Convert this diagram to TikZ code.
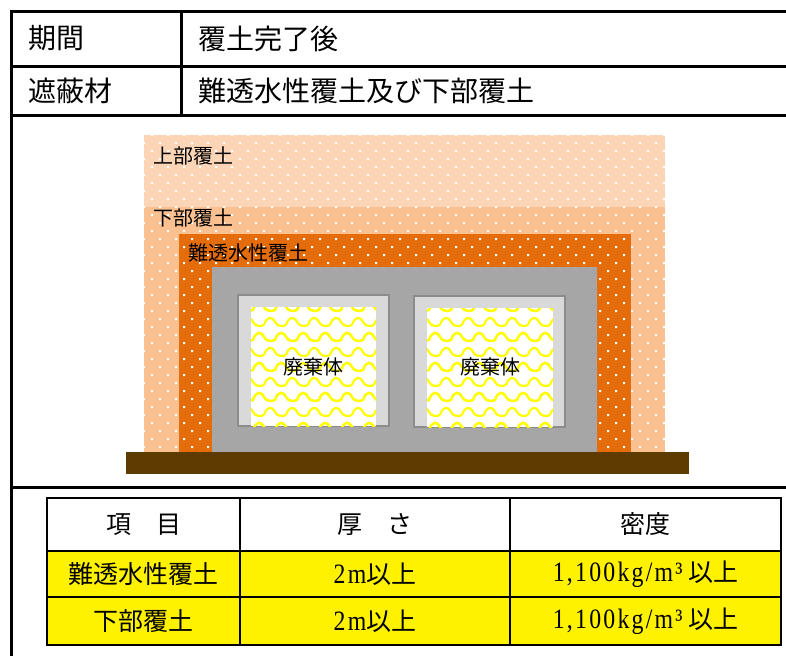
\documentclass[tikz,border=0pt]{standalone}
\usepackage{fontspec}
\setmainfont{Noto Sans CJK JP}
\newfontfamily\numfont[FakeStretch=0.85, LetterSpace=8]{Liberation Serif}
\usetikzlibrary{positioning, patterns}

\definecolor{uppersoil}{HTML}{FBD5B5}
\definecolor{lowersoil}{HTML}{FAC090}
\definecolor{claysoil}{HTML}{E46C0A}
\definecolor{concrete}{HTML}{A6A6A6}
\definecolor{pkgshell}{HTML}{D9D9D9}
\definecolor{pkgedge}{HTML}{8C8C8C}
\definecolor{basement}{HTML}{5E3B00}

% white dots for the soil layers
\pgfdeclarepatternformonly{sanddots}{\pgfqpoint{-1pt}{-1pt}}{\pgfqpoint{7pt}{7pt}}{\pgfqpoint{8pt}{8pt}}{%
  \pgfpathrectangle{\pgfqpoint{-0.5pt}{-0.5pt}}{\pgfqpoint{1pt}{1pt}}%
  \pgfpathrectangle{\pgfqpoint{3.5pt}{3.5pt}}{\pgfqpoint{1pt}{1pt}}%
  \pgfusepath{fill}}

% wavy fill for the waste packages
\pgfdeclarepatternformonly{shingle}{\pgfqpoint{-6pt}{-2pt}}{\pgfqpoint{17pt}{14pt}}{\pgfqpoint{11pt}{15pt}}{%
  \pgfsetlinewidth{1.1pt}%
  \pgfpathmoveto{\pgfqpoint{0pt}{0pt}}%
  \pgfpathcurveto{\pgfqpoint{1.5pt}{4.5pt}}{\pgfqpoint{4pt}{4.5pt}}{\pgfqpoint{5.5pt}{1.5pt}}%
  \pgfpathcurveto{\pgfqpoint{6.5pt}{-0.5pt}}{\pgfqpoint{9pt}{-1pt}}{\pgfqpoint{11pt}{0pt}}%
  \pgfpathmoveto{\pgfqpoint{-5.5pt}{7.5pt}}%
  \pgfpathcurveto{\pgfqpoint{-4pt}{12pt}}{\pgfqpoint{-1.5pt}{12pt}}{\pgfqpoint{0pt}{9pt}}%
  \pgfpathcurveto{\pgfqpoint{1pt}{7pt}}{\pgfqpoint{3.5pt}{6.5pt}}{\pgfqpoint{5.5pt}{7.5pt}}%
  \pgfpathcurveto{\pgfqpoint{7pt}{12pt}}{\pgfqpoint{9.5pt}{12pt}}{\pgfqpoint{11pt}{9pt}}%
  \pgfpathcurveto{\pgfqpoint{12pt}{7pt}}{\pgfqpoint{14.5pt}{6.5pt}}{\pgfqpoint{16.5pt}{7.5pt}}%
  \pgfusepath{stroke}}

\newcommand{\numtxt}[1]{{\numfont\fontsize{14pt}{16pt}\selectfont #1}}

\begin{document}
\begin{tikzpicture}[
  x=0.5pt, y=-0.5pt,
  font=\fontsize{14pt}{17pt}\selectfont,
  % header cells
  keycell/.style={draw, line width=1.5pt, outer sep=0pt, inner xsep=8.5pt, text width=68pt, align=left},
  valcell/.style={draw, line width=1.5pt, outer sep=0pt, inner xsep=8.5pt, text width=290pt, align=left},
  framecell/.style={draw, line width=1.5pt, outer sep=0pt, minimum width=392pt},
  % soil layers
  sand/.style={postaction={pattern=sanddots, pattern color=white}},
  layerlabel/.style={anchor=west, inner sep=0pt, font=\fontsize{10pt}{12pt}\selectfont},
  % lower table
  tabcell/.style={draw, line width=1pt, outer sep=0pt, align=center, font=\fontsize{12.5pt}{15pt}\selectfont},
  datacell/.style={tabcell, fill=yellow}
]
  \useasboundingbox (0,0) rectangle (786,655);

  % ==========================================
  % HEADER ROWS
  % ==========================================
  \node[keycell, minimum height=27.5pt, anchor=north west] (periodkey) at (11,11) {期間};
  \node[valcell, minimum height=27.5pt, right=0pt of periodkey] (periodval) {覆土完了後};
  \node[keycell, minimum height=24.5pt, below=0pt of periodkey] (shieldkey) {遮蔽材};
  \node[valcell, minimum height=24.5pt, right=0pt of shieldkey] (shieldval) {難透水性覆土及び下部覆土};

  \node[framecell, minimum height=186pt, anchor=north west] (figcell) at (shieldkey.south west) {};
  \node[framecell, minimum height=89pt, anchor=north west] (tabframe) at (figcell.south west) {};

  % ==========================================
  % CROSS SECTION
  % ==========================================
  \fill[uppersoil, sand] (144,135) rectangle (665,207);
  \fill[lowersoil, sand] (144,207) rectangle (665,452);
  \fill[claysoil, sand] (179,234) rectangle (631,452);
  \fill[concrete] (212,267) rectangle (597,452);

  % waste packages
  \filldraw[fill=pkgshell, draw=pkgedge, line width=1pt] (238,295) rectangle (389,426);
  \fill[white] (251,307) rectangle (376,426);
  \fill[pattern=shingle, pattern color=yellow] (251,307) rectangle (376,426);
  \filldraw[fill=pkgshell, draw=pkgedge, line width=1pt] (414,296) rectangle (565,427);
  \fill[white] (427,308) rectangle (553,427);
  \fill[pattern=shingle, pattern color=yellow] (427,308) rectangle (553,427);

  % foundation
  \fill[basement] (126,452) rectangle (689,474);

  % layer names
  \node[layerlabel] (upperlbl) at (153,156) {上部覆土};
  \node[layerlabel] (lowerlbl) at (153,218) {下部覆土};
  \node[layerlabel] (claylbl) at (188,253) {難透水性覆土};
  \node[inner sep=0pt, font=\fontsize{10pt}{12pt}\selectfont] (pkgA) at (313.5,367) {廃棄体};
  \node[inner sep=0pt, font=\fontsize{10pt}{12pt}\selectfont] (pkgB) at (490,367) {廃棄体};

  % ==========================================
  % SPECIFICATION TABLE
  % ==========================================
  \node[tabcell, minimum width=96.5pt, minimum height=26.5pt, anchor=north west] (hitem) at (47,498) {項　目};
  \node[tabcell, minimum width=135pt, minimum height=26.5pt, right=0pt of hitem] (hthick) {厚　さ};
  \node[tabcell, minimum width=135.5pt, minimum height=26.5pt, right=0pt of hthick] (hdens) {密度};

  \node[datacell, minimum width=96.5pt, minimum height=23pt, below=0pt of hitem] (clayitem) {難透水性覆土};
  \node[datacell, minimum width=135pt, minimum height=23pt, below=0pt of hthick] (claythick) {\numtxt{2m}以上};
  \node[datacell, minimum width=135.5pt, minimum height=23pt, below=0pt of hdens] (claydens) {\numtxt{1,100kg/m³}\ 以上};

  \node[datacell, minimum width=96.5pt, minimum height=24pt, below=0pt of clayitem] (loweritem) {下部覆土};
  \node[datacell, minimum width=135pt, minimum height=24pt, below=0pt of claythick] (lowerthick) {\numtxt{2m}以上};
  \node[datacell, minimum width=135.5pt, minimum height=24pt, below=0pt of claydens] (lowerdens) {\numtxt{1,100kg/m³}\ 以上};

\end{tikzpicture}
\end{document}
